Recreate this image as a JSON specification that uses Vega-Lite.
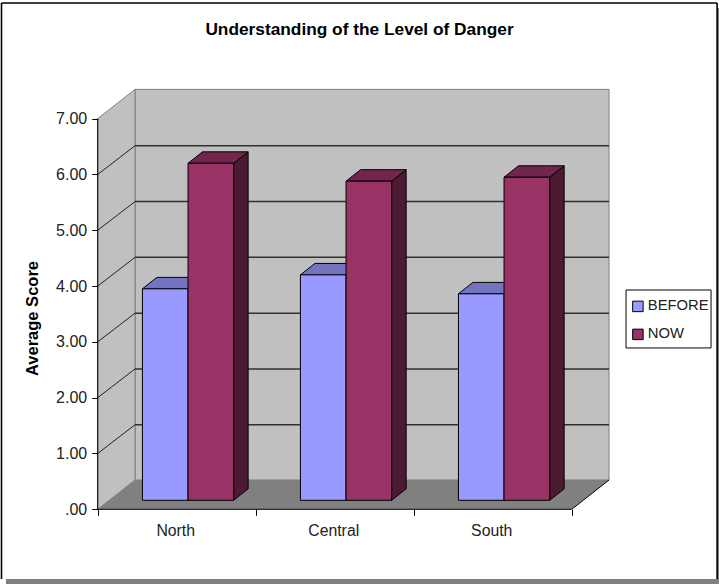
{
"$schema":"https://vega.github.io/schema/vega-lite/v6.json",
"width":719,"height":584,"padding":0,"autosize":{"type":"none"},
"background":"white",
"title":{"text":"Understanding of the Level of Danger","font":"Liberation Sans","fontSize":17.3,"fontWeight":"bold","color":"#000000","anchor":"middle","offset":-38},
"config":{"view":{"stroke":null},"font":"Liberation Sans"},
"datasets":{
"bars":[
{"region":"North","series":"BEFORE","value":3.79},
{"region":"North","series":"NOW","value":6.04},
{"region":"Central","series":"BEFORE","value":4.04},
{"region":"Central","series":"NOW","value":5.72},
{"region":"South","series":"BEFORE","value":3.70},
{"region":"South","series":"NOW","value":5.79}],
"levels":[{"level":1},{"level":2},{"level":3},{"level":4},{"level":5},{"level":6}]
},
"encoding":{
"x":{"field":"xa","type":"quantitative","scale":{"domain":[-0.6184,3.932],"nice":false,"zero":false},
"axis":{"title":null,"grid":false,"domain":false,"offset":-74.7,"zindex":1,"values":[0,0.5,1,1.5,2,2.5,3],"tickSize":6,"tickColor":"#000000","tickOpacity":{"condition":{"test":"datum.value % 1 === 0","value":1},"value":0},"labelExpr":"datum.value===0.5?'North':datum.value===1.5?'Central':datum.value===2.5?'South':''","labelFont":"Liberation Sans","labelFontSize":15.8,"labelColor":"#222222","labelPadding":8,"labelOffset":-1.5,"labelOverlap":false,"labelFlush":false}},
"y":{"field":"ya","type":"quantitative","scale":{"domain":[-1.339,9.127],"nice":false,"zero":false},
"axis":{"title":"Average Score","titleFont":"Liberation Sans","titleFontSize":16.5,"titleFontWeight":"bold","titleColor":"#000000","titleX":-57,"titleY":318,"grid":false,"domain":false,"offset":-97.7,"zindex":1,"values":[0,1,2,3,4,5,6,7],"tickSize":6,"tickColor":"#000000","labelExpr":"datum.value===0?'.00':format(datum.value,'.2f')","labelFont":"Liberation Sans","labelFontSize":16,"labelColor":"#222222","labelPadding":5,"labelOverlap":false,"labelFlush":false}}
},
"layer":[
{"data":{"values":[{"xa":-0.5804,"xb":3.932,"ya":8.984,"yb":-1.339}]},
"mark":{"type":"rect","fill":"#808080"},"encoding":{"x2":{"field":"xb"},"y2":{"field":"yb"}}},
{"data":{"values":[{"xa":-0.6089,"xb":3.920,"ya":9.073,"yb":-1.249}]},
"mark":{"type":"rect","fill":"#ffffff"},"encoding":{"x2":{"field":"xb"},"y2":{"field":"yb"}}},
{"data":{"values":[{"xa":-0.6089,"xb":3.920,"ya":9.073,"yb":9.073},{"xa":-0.6089,"xb":-0.6089,"ya":9.073,"yb":-1.249},{"xa":3.920,"xb":3.920,"ya":9.073,"yb":-1.249}]},
"mark":{"type":"rule","stroke":"#000000","strokeWidth":1.6},"encoding":{"x2":{"field":"xb"},"y2":{"field":"yb"}}},
{"data":{"values":[{"xa":0.2361,"xb":3.2361,"ya":7.525,"yb":0.525}]},
"mark":{"type":"rect","fill":"#C0C0C0","stroke":"#808080","strokeWidth":1},"encoding":{"x2":{"field":"xb"},"y2":{"field":"yb"}}},
{"data":{"values":[{"xa":0,"ya":7,"yb":0},{"xa":0.2361,"ya":7.525,"yb":0.525}]},
"mark":{"type":"area","orient":"vertical","fill":"#C0C0C0","stroke":"#808080","strokeWidth":1},"encoding":{"y2":{"field":"yb"}}},
{"data":{"values":[{"xa":0,"ya":0,"yb":0},{"xa":0.2361,"ya":0.525,"yb":0},{"xa":3,"ya":0.525,"yb":0},{"xa":3.2361,"ya":0.525,"yb":0.525}]},
"mark":{"type":"area","orient":"vertical","fill":"#808080"},"encoding":{"y2":{"field":"yb"}}},
{"data":{"name":"levels"},
"transform":[{"calculate":"0.2361","as":"xa"},{"calculate":"3.2361","as":"xb"},{"calculate":"datum.level+0.515","as":"ya"},{"calculate":"datum.level+0.515","as":"yb"}],
"mark":{"type":"rule","stroke":"#303030","strokeWidth":1.5},"encoding":{"x2":{"field":"xb"},"y2":{"field":"yb"}}},
{"data":{"name":"levels"},
"transform":[{"calculate":"0","as":"xa"},{"calculate":"0.2361","as":"xb"},{"calculate":"datum.level","as":"ya"},{"calculate":"datum.level+0.515","as":"yb"}],
"mark":{"type":"rule","stroke":"#202020","strokeWidth":1},"encoding":{"x2":{"field":"xb"},"y2":{"field":"yb"}}},
{"data":{"values":[{"xa":0,"xb":0,"ya":0,"yb":7},{"xa":0,"xb":3,"ya":0,"yb":0},{"xa":3,"xb":3.2361,"ya":0,"yb":0.525}]},
"mark":{"type":"rule","stroke":"#000000","strokeWidth":1},"encoding":{"x2":{"field":"xb"},"y2":{"field":"yb"}}},
{"data":{"name":"bars"},
"transform":[
{"calculate":"indexof(['North','Central','South'],datum.region)+0.283+(datum.series==='NOW'?0.2886:0)","as":"x0"},
{"calculate":"datum.x0+0.2886","as":"x1"},
{"calculate":"datum.value+0.161","as":"top"},
{"calculate":"[datum.x1,datum.x1+0.0918]","as":"xa"},
{"calculate":"[datum.top,datum.top+0.205]","as":"ya"},
{"calculate":"[0.161,0.366]","as":"yb"},
{"flatten":["xa","ya","yb"]}],
"mark":{"type":"area","orient":"vertical","stroke":"#000000","strokeWidth":1},
"encoding":{"y2":{"field":"yb"},"detail":[{"field":"region"},{"field":"series"}],"fill":{"condition":{"test":"datum.series==='NOW'","value":"#4D1A33"},"value":"#4D4D80"}}},
{"data":{"name":"bars"},
"transform":[
{"calculate":"indexof(['North','Central','South'],datum.region)+0.283+(datum.series==='NOW'?0.2886:0)","as":"x0"},
{"calculate":"datum.x0+0.2886","as":"x1"},
{"calculate":"datum.value+0.161","as":"top"},
{"calculate":"[datum.x0,datum.x0+0.0918,datum.x1,datum.x1+0.0918]","as":"xa"},
{"calculate":"[datum.top,datum.top+0.205,datum.top+0.205,datum.top+0.205]","as":"ya"},
{"calculate":"[datum.top,datum.top,datum.top,datum.top+0.205]","as":"yb"},
{"flatten":["xa","ya","yb"]}],
"mark":{"type":"area","orient":"vertical","stroke":"#000000","strokeWidth":1},
"encoding":{"y2":{"field":"yb"},"detail":[{"field":"region"},{"field":"series"}],"fill":{"condition":{"test":"datum.series==='NOW'","value":"#73264D"},"value":"#7373BF"}}},
{"data":{"values":[{"xa":3.3437,"xb":3.8816,"ya":3.930,"yb":2.891}]},
"mark":{"type":"rect","fill":"#ffffff","stroke":"#000000","strokeWidth":1},"encoding":{"x2":{"field":"xb"},"y2":{"field":"yb"}}},
{"data":{"name":"bars"},
"transform":[
{"calculate":"indexof(['North','Central','South'],datum.region)+0.283+(datum.series==='NOW'?0.2886:0)","as":"xa"},
{"calculate":"datum.xa+0.2886","as":"xb"},
{"calculate":"datum.value+0.161","as":"ya"},
{"calculate":"0.161","as":"yb"}],
"mark":{"type":"rect","stroke":"#000000","strokeWidth":1},
"encoding":{"x2":{"field":"xb"},"y2":{"field":"yb"},
"color":{"field":"series","type":"nominal","scale":{"domain":["BEFORE","NOW"],"range":["#9999FF","#993366"]},
"legend":{"title":null,"orient":"none","legendX":630.5,"legendY":299,"padding":0,"symbolType":"square","symbolSize":110,"symbolStrokeColor":"#000000","symbolStrokeWidth":1,"symbolOpacity":1,"labelFont":"Liberation Sans","labelFontSize":14.8,"labelColor":"#222222","rowPadding":12,"labelOffset":2.5}}}}
]
}
